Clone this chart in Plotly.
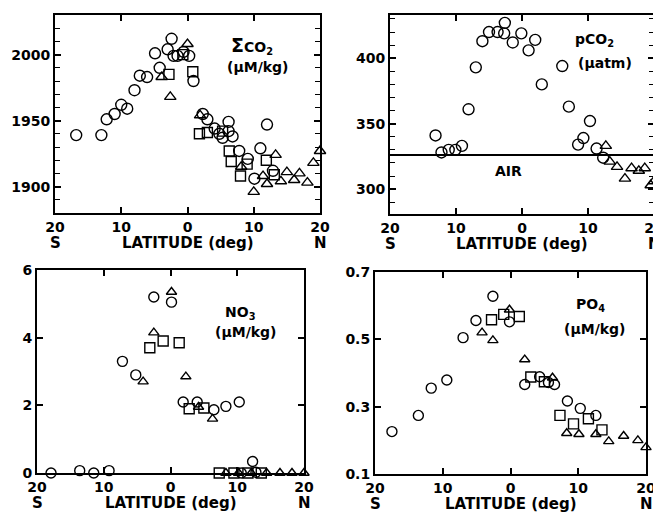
import plotly.graph_objects as go

W, H = 661, 520
OFF = 8  # page body margin of the html document

# ---------------- data ----------------
lat_ticks = [-20, -10, 0, 10, 20]
lat_tick_labels = ["20", "10", "0", "10", "20"]

# Sigma CO2 (uM/kg)
co2_circ_lat = [-16.8, -13.0, -12.2, -11.0, -10.0, -9.1, -8.0, -7.2, -6.1, -4.9, -4.2, -3.0, -2.4, -2.1,
                -1.5, -0.6, 0.25, 0.9, 2.3, 3.0, 4.1, 4.8, 5.3, 6.2, 6.2, 6.8, 7.8, 9.1, 10.1, 11.0, 12.0, 12.9]
co2_circ_val = [1939, 1939, 1951, 1955, 1962, 1959, 1973, 1984, 1983, 2001, 1990, 2004, 2012, 1999,
                1999, 2002, 1999, 1980, 1955, 1951, 1944, 1940, 1937, 1949, 1942, 1938, 1927, 1921, 1906, 1929, 1947, 1912]
co2_sq_lat = [-2.8, -0.7, 0.8, 1.8, 3.0, 5.3, 6.3, 6.6, 8.0, 9.0, 11.9, 13.1]
co2_sq_val = [1985, 2000, 1987, 1940, 1941, 1942, 1927, 1919, 1908, 1917, 1920, 1909]
co2_tri_lat = [-3.9, -2.6, 0.0, 1.9, 8.1, 10.0, 11.4, 12.0, 13.3, 14.1, 15.0, 16.1, 16.9, 18.1, 19.0, 20.0]
co2_tri_val = [1983, 1968, 2008, 1954, 1915, 1896, 1908, 1902, 1924, 1904, 1911, 1905, 1910, 1903, 1918, 1927]

# pCO2 (uatm)
pco2_circ_lat = [-13.1, -12.2, -11.1, -10.1, -9.1, -8.1, -7.0, -6.0, -5.0, -3.7, -2.7, -2.6, -1.4, -0.1,
                 1.0, 2.0, 3.0, 6.1, 7.1, 8.5, 9.3, 10.3, 11.3, 12.3]
pco2_circ_val = [341, 328, 330, 330, 333, 361, 393, 413, 420, 420, 419, 427, 412, 419,
                 406, 414, 380, 394, 363, 334, 339, 352, 331, 324]
pco2_tri_lat = [12.7, 13.3, 14.4, 15.6, 16.6, 17.7, 18.6, 19.5, 20.0]
pco2_tri_val = [333, 321, 317, 308, 316, 314, 316, 303, 306]
air_pco2 = 326

# NO3 (uM/kg)
no3_circ_lat = [-17.9, -13.6, -11.5, -9.2, -7.2, -5.2, -2.5, 0.15, 1.9, 4.0, 6.5, 8.3, 10.3, 12.3, 10.6, 12.8]
no3_circ_val = [0.0, 0.07, 0.0, 0.07, 3.3, 2.9, 5.2, 5.05, 2.1, 2.1, 1.87, 1.97, 2.1, 0.34, 0.0, 0.02]
no3_sq_lat = [-3.1, -1.1, 1.3, 2.8, 5.0, 7.3, 9.5, 11.6, 13.6]
no3_sq_val = [3.7, 3.9, 3.85, 1.9, 1.92, 0.0, 0.0, 0.0, 0.0]
no3_tri_lat = [-2.5, -4.1, 0.15, 2.3, 4.2, 6.3, 8.3, 10.2, 12.1, 14.4, 16.4, 18.2, 20.0]
no3_tri_val = [4.15, 2.7, 5.35, 2.85, 1.95, 1.6, 0.0, 0.0, 0.0, 0.0, 0.0, 0.0, 0.0]

# PO4 (uM/kg)
po4_circ_lat = [-17.5, -13.6, -11.7, -9.4, -7.0, -5.1, -2.6, -0.15, 2.1, 4.3, 5.6, 6.5, 8.4, 10.3, 12.6]
po4_circ_val = [0.226, 0.274, 0.355, 0.379, 0.505, 0.556, 0.628, 0.552, 0.366, 0.389, 0.372, 0.366, 0.317, 0.295, 0.274]
po4_sq_lat = [-2.8, -1.0, 1.3, 3.0, 5.0, 7.3, 9.3, 11.5, 13.5]
po4_sq_val = [0.558, 0.574, 0.568, 0.388, 0.374, 0.274, 0.249, 0.264, 0.231]
po4_tri_lat = [-4.2, -2.6, -0.15, 2.1, 6.2, 8.3, 10.1, 12.6, 14.5, 16.7, 18.8, 20.0]
po4_tri_val = [0.52, 0.497, 0.588, 0.44, 0.386, 0.221, 0.218, 0.218, 0.197, 0.213, 0.2, 0.179]

# ---------------- layout geometry (page pixels) ----------------
panels = {
    1: dict(x0=55, x1=320, y0=15, y1=213, yr=[1880, 2030], dtick=50, minor=10),
    2: dict(x0=390, x1=654, y0=15, y1=214, yr=[281, 433], dtick=50, minor=10),
    3: dict(x0=37, x1=304, y0=270, y1=473, yr=[0, 6], dtick=2, minor=None),
    4: dict(x0=375, x1=646, y0=272, y1=474, yr=[0.1, 0.7], dtick=0.2, minor=None),
}


def px_x(px):
    return (px - OFF) / W


def px_y(py):
    return 1 - (py - OFF) / H


fig = go.Figure()
INK = "black"
FONT = "DejaVu Sans"
tick_font = dict(family=FONT, size=14, color=INK, weight="bold")


def add_series(i, xs, ys, symbol, size):
    xa = "x" if i == 1 else f"x{i}"
    ya = "y" if i == 1 else f"y{i}"
    fig.add_trace(go.Scatter(
        x=xs, y=ys, mode="markers", xaxis=xa, yaxis=ya, showlegend=False, cliponaxis=False,
        marker=dict(symbol=symbol, size=size, color=INK, line=dict(color=INK, width=1.4)),
    ))


add_series(1, co2_circ_lat, co2_circ_val, "circle-open", 11)
add_series(1, co2_sq_lat, co2_sq_val, "square-open", 10)
add_series(1, co2_tri_lat, co2_tri_val, "triangle-up-open", 10)
add_series(2, pco2_circ_lat, pco2_circ_val, "circle-open", 11)
add_series(2, pco2_tri_lat, pco2_tri_val, "triangle-up-open", 10)
add_series(3, no3_circ_lat, no3_circ_val, "circle-open", 10)
add_series(3, no3_sq_lat, no3_sq_val, "square-open", 10)
add_series(3, no3_tri_lat, no3_tri_val, "triangle-up-open", 9)
add_series(4, po4_circ_lat, po4_circ_val, "circle-open", 10)
add_series(4, po4_sq_lat, po4_sq_val, "square-open", 10)
add_series(4, po4_tri_lat, po4_tri_val, "triangle-up-open", 9)

layout = dict(width=W, height=H, margin=dict(l=0, r=0, t=0, b=0, autoexpand=False),
              paper_bgcolor="white", plot_bgcolor="white", showlegend=False)

annotations = []
for i, p in panels.items():
    sx = "" if i == 1 else str(i)
    xd = [px_x(p["x0"]), px_x(p["x1"])]
    yd = [px_y(p["y1"]), px_y(p["y0"])]
    layout[f"xaxis{sx}"] = dict(
        domain=xd, range=[-20, 20], anchor=f"y{sx}", tickvals=lat_ticks, ticktext=lat_tick_labels,
        ticks="inside", ticklen=6, tickwidth=1.5, tickcolor=INK, showline=True, linewidth=2,
        linecolor=INK, mirror="ticks", showgrid=False, zeroline=False, tickfont=tick_font,
        automargin=False,
    )
    ya = dict(
        domain=yd, range=p["yr"], anchor=f"x{sx}", dtick=p["dtick"],
        tick0=p["yr"][0] if i in (3, 4) else 0,
        ticks="inside", ticklen=6, tickwidth=1.5, tickcolor=INK, showline=True, linewidth=2,
        linecolor=INK, mirror="ticks", showgrid=False, zeroline=False, tickfont=tick_font,
        automargin=False,
    )
    if p["minor"]:
        ya["minor"] = dict(dtick=p["minor"], ticks="inside", ticklen=5, tickwidth=1.3,
                           tickcolor=INK, showgrid=False)
    layout[f"yaxis{sx}"] = ya

    # second row under tick labels: S  LATITUDE (deg)  N
    row_y = px_y(p["y1"] + 30)
    xr = "x" if i == 1 else f"x{i}"
    for txt, xv in (("S", -20), ("N", 20), ("LATITUDE (deg)", 0)):
        annotations.append(dict(text=txt, x=xv, y=row_y, xref=xr, yref="paper",
                                xanchor="center", yanchor="middle", showarrow=False,
                                font=dict(family=FONT, size=15, color=INK, weight="bold")))

label_font = dict(family=FONT, size=14, color=INK, weight="bold")
SIG = "<span style='font-size:19px'>Σ</span>"
labels = [
    (SIG + "CO<sub>2</sub>", 252, 46), ("(μM/kg)", 257, 67),
    ("pCO<sub>2</sub>", 594, 40), ("(μatm)", 605, 63),
    ("NO<sub>3</sub>", 240, 313), ("(μM/kg)", 245, 332),
    ("PO<sub>4</sub>", 590, 305), ("(μM/kg)", 594, 329),
]
for txt, px, py in labels:
    annotations.append(dict(text=txt, x=px_x(px), y=px_y(py), xref="paper", yref="paper",
                            xanchor="center", yanchor="middle", showarrow=False, font=label_font))

annotations.append(dict(text="AIR", x=-2, y=314, xref="x2", yref="y2", showarrow=False,
                        xanchor="center", yanchor="middle",
                        font=dict(family=FONT, size=14, color=INK, weight="bold")))
layout["annotations"] = annotations
layout["shapes"] = [dict(type="line", xref="x2", yref="y2", x0=-20, x1=20, y0=air_pco2, y1=air_pco2,
                         line=dict(color=INK, width=2))]

fig.update_layout(**layout)
fig.write_html("out.html")
